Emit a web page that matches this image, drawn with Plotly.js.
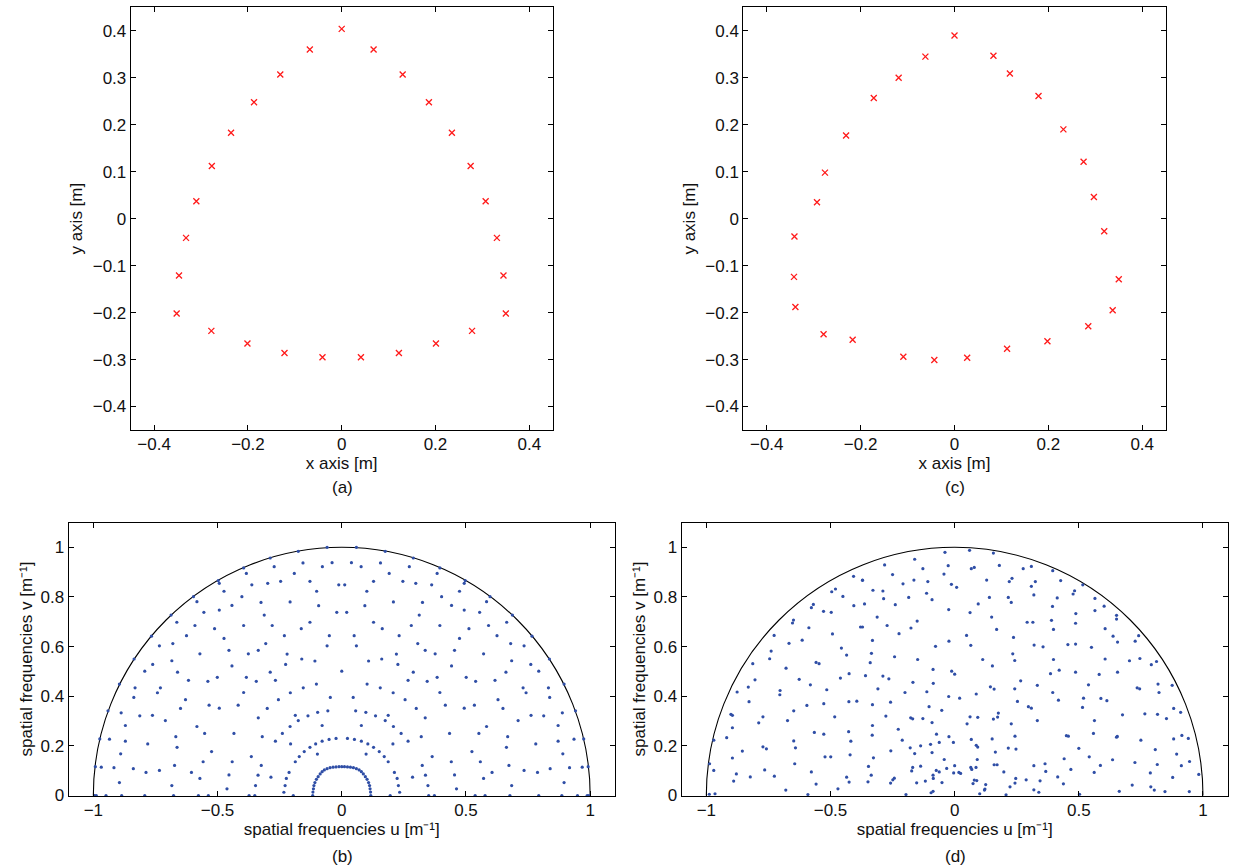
<!DOCTYPE html>
<html>
<head>
<meta charset="utf-8">
<script src="https://cdn.plot.ly/plotly-3.0.1.min.js"></script>
<style>html,body{margin:0;padding:0;background:#fff;}#chart{width:1233px;height:867px;}</style>
</head>
<body>
<div id="chart"></div>
<script>
// ---------- (a) array element positions [m] ----------
const a_x = [0, -0.068, 0.068, -0.131, 0.130, -0.187, 0.186, -0.236, 0.235, -0.277, 0.275, -0.310, 0.307, -0.332, 0.331, -0.347, 0.345, -0.352, 0.350, -0.278, 0.278, -0.201, 0.201, -0.122, 0.122, -0.041, 0.041];
const a_y = [0.404, 0.360, 0.360, 0.307, 0.307, 0.248, 0.248, 0.183, 0.183, 0.112, 0.112, 0.037, 0.037, -0.041, -0.041, -0.121, -0.121, -0.202, -0.202, -0.239, -0.239, -0.266, -0.266, -0.286, -0.286, -0.295, -0.295];

// ---------- (c) array element positions [m] ----------
const c_x = [0, -0.062, 0.083, -0.119, 0.118, -0.172, 0.179, -0.231, 0.232, -0.276, 0.275, -0.293, 0.297, -0.341, 0.319, -0.342, 0.350, -0.339, 0.337, -0.279, 0.285, -0.217, 0.198, -0.109, 0.112, -0.043, 0.027];
const c_y = [0.390, 0.345, 0.347, 0.300, 0.309, 0.257, 0.261, 0.177, 0.190, 0.098, 0.121, 0.035, 0.046, -0.038, -0.027, -0.124, -0.129, -0.188, -0.195, -0.246, -0.229, -0.258, -0.261, -0.294, -0.277, -0.301, -0.296];

// ---------- (b) spatial frequencies [u, v] ----------
const b_outer_left = [[-0.395,0.917],[-0.384,0.895],[-0.497,0.866],[-0.493,0.855],[-0.474,0.823],[-0.402,0.801],[-0.597,0.801],[-0.583,0.781],[-0.442,0.766],[-0.555,0.738],[-0.493,0.747],[-0.687,0.727],[-0.664,0.698],[-0.591,0.685],[-0.395,0.685],[-0.512,0.672],[-0.625,0.644],[-0.474,0.633],[-0.766,0.642],[-0.734,0.603],[-0.680,0.612],[-0.571,0.571],[-0.454,0.585],[-0.836,0.550],[-0.684,0.543],[-0.761,0.528],[-0.442,0.522],[-0.793,0.501],[-0.661,0.497],[-0.617,0.464],[-0.539,0.460],[-0.501,0.476],[-0.384,0.476],[-0.895,0.449],[-0.832,0.434],[-0.730,0.434],[-0.742,0.414],[-0.837,0.395],[-0.629,0.386],[-0.395,0.415],[-0.534,0.364],[-0.493,0.352],[-0.417,0.364],[-0.649,0.351],[-0.941,0.341],[-0.888,0.333],[-0.813,0.321],[-0.762,0.323],[-0.710,0.302],[-0.871,0.282],[-0.583,0.278],[-0.552,0.250],[-0.434,0.250],[-0.668,0.237],[-0.974,0.228],[-0.935,0.227],[-0.871,0.219],[-0.781,0.208],[-0.663,0.194],[-0.524,0.177],[-0.890,0.168],[-0.558,0.136],[-0.441,0.136],[-0.992,0.116],[-0.968,0.114],[-0.917,0.112],[-0.839,0.108],[-0.788,0.093],[-0.734,0.101],[-0.673,0.121],[-0.605,0.093],[-0.454,0.083],[-0.571,0.069],[-0.895,0.052],[-0.684,0.040],[-0.462,0.027]];
const b_outer_right = [[0.395,0.917],[0.384,0.895],[0.497,0.866],[0.493,0.855],[0.474,0.823],[0.402,0.801],[0.597,0.801],[0.583,0.781],[0.442,0.766],[0.555,0.738],[0.493,0.747],[0.687,0.727],[0.664,0.698],[0.591,0.685],[0.395,0.685],[0.512,0.672],[0.625,0.644],[0.474,0.633],[0.766,0.642],[0.734,0.603],[0.680,0.612],[0.571,0.571],[0.454,0.585],[0.836,0.550],[0.684,0.543],[0.761,0.528],[0.442,0.522],[0.793,0.501],[0.661,0.497],[0.617,0.464],[0.539,0.460],[0.501,0.476],[0.384,0.476],[0.895,0.449],[0.832,0.434],[0.730,0.434],[0.742,0.414],[0.837,0.395],[0.629,0.386],[0.395,0.415],[0.534,0.364],[0.493,0.352],[0.417,0.364],[0.649,0.351],[0.941,0.341],[0.888,0.333],[0.813,0.321],[0.762,0.323],[0.710,0.302],[0.871,0.282],[0.583,0.278],[0.552,0.250],[0.434,0.250],[0.668,0.237],[0.974,0.228],[0.935,0.227],[0.871,0.219],[0.781,0.208],[0.663,0.194],[0.524,0.177],[0.890,0.168],[0.558,0.136],[0.441,0.136],[0.992,0.116],[0.968,0.114],[0.917,0.112],[0.839,0.108],[0.788,0.093],[0.734,0.101],[0.673,0.121],[0.605,0.093],[0.454,0.083],[0.571,0.069],[0.895,0.052],[0.684,0.040],[0.462,0.027]];
const b_mid_left = [[-0.175,0.984],[-0.059,1.000],[-0.288,0.957],[-0.156,0.937],[-0.039,0.938],[-0.272,0.922],[-0.078,0.922],[-0.191,0.895],[-0.246,0.863],[-0.128,0.863],[-0.362,0.849],[-0.298,0.855],[-0.012,0.849],[-0.101,0.823],[-0.325,0.778],[-0.208,0.780],[-0.093,0.765],[-0.020,0.738],[-0.312,0.727],[-0.128,0.698],[-0.280,0.685],[-0.163,0.672],[-0.231,0.644],[-0.050,0.644],[-0.306,0.612],[-0.059,0.603],[-0.336,0.585],[-0.376,0.571],[-0.220,0.570],[-0.161,0.550],[-0.108,0.542],[-0.226,0.528],[-0.288,0.497],[-0.344,0.460],[-0.267,0.464],[-0.102,0.449],[-0.155,0.434],[-0.207,0.414],[-0.046,0.395],[-0.255,0.386],[-0.300,0.351],[-0.056,0.341],[-0.097,0.335],[-0.187,0.323],[-0.136,0.321],[-0.336,0.313],[-0.175,0.302],[-0.079,0.282],[-0.208,0.278],[-0.239,0.250],[-0.320,0.237],[-0.267,0.219],[-0.206,0.208],[-0.098,0.167],[-0.364,0.157],[-0.324,0.121],[-0.337,0.082],[-0.285,0.074],[-0.347,0.040]];
const b_mid_right = [[0.175,0.984],[0.059,1.000],[0.288,0.957],[0.156,0.937],[0.039,0.938],[0.272,0.922],[0.078,0.922],[0.191,0.895],[0.246,0.863],[0.128,0.863],[0.362,0.849],[0.298,0.855],[0.012,0.849],[0.101,0.823],[0.325,0.778],[0.208,0.780],[0.093,0.765],[0.020,0.738],[0.312,0.727],[0.128,0.698],[0.280,0.685],[0.163,0.672],[0.231,0.644],[0.050,0.644],[0.306,0.612],[0.059,0.603],[0.336,0.585],[0.376,0.571],[0.220,0.570],[0.161,0.550],[0.108,0.542],[0.226,0.528],[0.288,0.497],[0.344,0.460],[0.267,0.464],[0.102,0.449],[0.155,0.434],[0.207,0.414],[0.046,0.395],[0.255,0.386],[0.300,0.351],[0.056,0.341],[0.097,0.335],[0.187,0.323],[0.136,0.321],[0.336,0.313],[0.175,0.302],[0.079,0.282],[0.208,0.278],[0.239,0.250],[0.320,0.237],[0.267,0.219],[0.206,0.208],[0.098,0.167],[0.364,0.157],[0.324,0.121],[0.337,0.082],[0.285,0.074],[0.347,0.040]];
const b_center = [[0.000,0.501]];
const b_ring2 = [[-0.233,0.013],[-0.228,0.040],[-0.223,0.069],[-0.212,0.093],[-0.187,0.136],[-0.171,0.157],[-0.151,0.177],[-0.128,0.194],[-0.105,0.208],[-0.079,0.219],[-0.051,0.226],[-0.023,0.230],[0.023,0.230],[0.051,0.226],[0.079,0.219],[0.105,0.208],[0.128,0.194],[0.151,0.177],[0.171,0.157],[0.187,0.136],[0.212,0.093],[0.223,0.069],[0.228,0.040],[0.233,0.013]];
const b_ring1 = [[-0.117,0.000],[-0.116,0.014],[-0.114,0.027],[-0.112,0.040],[-0.108,0.052],[-0.102,0.065],[-0.095,0.076],[-0.087,0.087],[-0.079,0.096],[-0.070,0.103],[-0.059,0.108],[-0.047,0.112],[-0.035,0.114],[-0.023,0.115],[-0.011,0.116],[0.000,0.116],[0.011,0.116],[0.023,0.115],[0.035,0.114],[0.047,0.112],[0.059,0.108],[0.070,0.103],[0.079,0.096],[0.087,0.087],[0.095,0.076],[0.102,0.065],[0.108,0.052],[0.112,0.040],[0.114,0.027],[0.116,0.014],[0.117,0.000]];
const b_axis = [[-0.995,0],[-0.988,0],[-0.949,0],[-0.886,0],[-0.793,0],[-0.677,0],[-0.577,0],[-0.537,0],[-0.373,0],[-0.350,0],[-0.195,0],[0.195,0],[0.350,0],[0.373,0],[0.537,0],[0.577,0],[0.677,0],[0.793,0],[0.886,0],[0.949,0],[0.988,0],[0.995,0]];

// ---------- (d) spatial frequencies [u, v] ----------
const d_left = [[-0.407,0.883],[-0.371,0.867],[-0.495,0.821],[-0.480,0.832],[-0.450,0.802],[-0.406,0.765],[-0.569,0.770],[-0.577,0.757],[-0.528,0.742],[-0.497,0.738],[-0.649,0.707],[-0.653,0.695],[-0.587,0.676],[-0.379,0.679],[-0.727,0.645],[-0.492,0.651],[-0.614,0.626],[-0.667,0.613],[-0.456,0.594],[-0.739,0.582],[-0.745,0.551],[-0.435,0.566],[-0.813,0.531],[-0.558,0.536],[-0.546,0.531],[-0.679,0.513],[-0.460,0.473],[-0.425,0.491],[-0.804,0.466],[-0.626,0.468],[-0.581,0.446],[-0.876,0.417],[-0.831,0.437],[-0.703,0.423],[-0.704,0.406],[-0.515,0.426],[-0.828,0.378],[-0.595,0.363],[-0.527,0.370],[-0.426,0.378],[-0.394,0.380],[-0.901,0.327],[-0.895,0.323],[-0.772,0.317],[-0.648,0.341],[-0.483,0.317],[-0.789,0.293],[-0.673,0.302],[-0.895,0.273],[-0.565,0.254],[-0.527,0.247],[-0.427,0.257],[-0.918,0.233],[-0.970,0.223],[-0.648,0.220],[-0.641,0.192],[-0.418,0.219],[-0.772,0.196],[-0.758,0.188],[-0.855,0.179],[-0.895,0.151],[-0.522,0.156],[-0.499,0.156],[-0.421,0.164],[-0.987,0.128],[-0.644,0.128],[-0.970,0.101],[-0.879,0.087],[-0.765,0.103],[-0.823,0.075],[-0.726,0.078],[-0.577,0.095],[-0.890,0.058],[-0.435,0.074],[-0.425,0.054],[-0.558,0.046],[-0.680,0.022],[-0.470,0.027],[-0.988,0.005],[-0.965,0.007],[-0.591,0.004]];
const d_mid = [[-0.039,0.980],[0.060,0.988],[0.156,0.977],[-0.161,0.952],[-0.282,0.929],[-0.128,0.914],[-0.026,0.926],[0.067,0.914],[0.079,0.919],[0.180,0.927],[0.276,0.914],[0.309,0.923],[-0.250,0.890],[-0.043,0.892],[-0.371,0.868],[-0.208,0.853],[-0.164,0.868],[-0.108,0.862],[-0.013,0.851],[0.008,0.839],[0.129,0.868],[0.220,0.862],[0.231,0.875],[0.325,0.862],[0.309,0.843],[-0.329,0.827],[-0.289,0.824],[-0.185,0.798],[-0.113,0.815],[-0.091,0.789],[-0.286,0.793],[0.140,0.798],[0.216,0.798],[0.228,0.778],[0.319,0.808],[-0.363,0.772],[-0.239,0.769],[0.095,0.772],[-0.312,0.719],[-0.024,0.749],[0.062,0.737],[0.149,0.719],[-0.151,0.703],[-0.272,0.685],[-0.176,0.675],[0.169,0.669],[0.292,0.698],[0.315,0.698],[-0.371,0.679],[-0.224,0.652],[0.048,0.645],[0.237,0.637],[-0.331,0.625],[-0.023,0.622],[-0.077,0.601],[0.065,0.605],[0.320,0.606],[0.356,0.599],[-0.335,0.573],[-0.242,0.559],[-0.340,0.535],[-0.149,0.548],[0.234,0.571],[0.242,0.544],[0.113,0.548],[0.152,0.522],[-0.359,0.483],[-0.289,0.481],[-0.265,0.470],[-0.087,0.508],[-0.012,0.501],[0.000,0.489],[-0.168,0.456],[-0.086,0.452],[0.266,0.462],[0.333,0.444],[-0.309,0.430],[-0.200,0.415],[-0.112,0.418],[-0.024,0.399],[0.020,0.392],[0.087,0.409],[0.144,0.438],[0.159,0.429],[0.242,0.430],[-0.331,0.366],[-0.258,0.376],[-0.103,0.358],[-0.052,0.343],[0.253,0.379],[0.297,0.358],[0.309,0.352],[-0.277,0.320],[-0.177,0.313],[-0.169,0.309],[-0.128,0.310],[-0.091,0.294],[0.062,0.317],[0.093,0.315],[0.156,0.308],[0.173,0.316],[0.176,0.332],[0.333,0.302],[-0.331,0.282],[0.050,0.289],[0.228,0.289],[-0.332,0.243],[-0.227,0.267],[-0.073,0.247],[-0.023,0.237],[0.243,0.239],[-0.211,0.223],[-0.137,0.200],[-0.097,0.206],[-0.062,0.214],[-0.005,0.214],[0.067,0.226],[0.087,0.202],[0.093,0.195],[0.151,0.228],[0.164,0.175],[0.216,0.191],[0.247,0.187],[-0.257,0.180],[-0.179,0.192],[-0.161,0.169],[-0.091,0.173],[-0.327,0.152],[-0.042,0.145],[0.091,0.145],[-0.347,0.117],[-0.169,0.113],[-0.173,0.099],[-0.137,0.118],[-0.074,0.101],[-0.062,0.095],[-0.032,0.109],[0.000,0.120],[-0.004,0.091],[0.017,0.093],[0.024,0.089],[0.065,0.113],[0.069,0.105],[0.086,0.113],[0.159,0.124],[0.171,0.124],[0.198,0.095],[0.319,0.120],[-0.336,0.082],[-0.087,0.082],[-0.086,0.069],[-0.243,0.070],[-0.249,0.063],[-0.349,0.055],[-0.258,0.050],[-0.153,0.051],[-0.118,0.058],[-0.051,0.052],[0.079,0.062],[0.089,0.060],[0.074,0.048],[0.125,0.044],[0.246,0.069],[0.243,0.050],[0.288,0.063],[0.344,0.059],[0.122,0.026],[0.120,0.022],[0.223,0.035],[0.319,0.023],[0.339,0.013],[-0.196,0.004],[-0.095,0.011],[-0.087,0.017],[0.101,0.007],[0.207,0.003]];
const d_right = [[0.395,0.906],[0.427,0.866],[0.516,0.849],[0.483,0.825],[0.477,0.812],[0.413,0.796],[0.565,0.794],[0.394,0.762],[0.602,0.763],[0.565,0.745],[0.488,0.733],[0.652,0.726],[0.652,0.711],[0.390,0.706],[0.487,0.694],[0.398,0.669],[0.606,0.672],[0.638,0.642],[0.741,0.644],[0.727,0.622],[0.656,0.618],[0.456,0.608],[0.487,0.610],[0.551,0.597],[0.398,0.548],[0.606,0.550],[0.704,0.543],[0.746,0.552],[0.792,0.527],[0.813,0.540],[0.386,0.491],[0.421,0.505],[0.487,0.497],[0.582,0.488],[0.656,0.497],[0.539,0.446],[0.819,0.449],[0.876,0.444],[0.735,0.434],[0.745,0.430],[0.395,0.415],[0.823,0.415],[0.418,0.384],[0.519,0.392],[0.589,0.391],[0.613,0.382],[0.515,0.355],[0.676,0.325],[0.766,0.329],[0.817,0.327],[0.853,0.310],[0.882,0.351],[0.910,0.335],[0.563,0.302],[0.450,0.241],[0.458,0.239],[0.559,0.250],[0.652,0.235],[0.655,0.238],[0.750,0.223],[0.882,0.228],[0.915,0.242],[0.941,0.230],[0.500,0.190],[0.808,0.185],[0.894,0.167],[0.364,0.128],[0.441,0.148],[0.542,0.156],[0.636,0.144],[0.726,0.133],[0.816,0.125],[0.913,0.120],[0.946,0.137],[0.367,0.097],[0.468,0.105],[0.562,0.093],[0.587,0.121],[0.788,0.091],[0.983,0.085],[0.415,0.075],[0.878,0.073],[0.438,0.047],[0.715,0.042],[0.790,0.035],[0.804,0.022],[0.847,0.016],[0.663,0.017],[0.945,0.016],[0.503,0.005]];

// ---------- tick values, titles, captions ----------
const arrTicks = [-0.4, -0.3, -0.2, -0.1, 0, 0.1, 0.2, 0.3, 0.4];
const arrXTicks = [-0.4, -0.2, 0, 0.2, 0.4];
const freqUTicks = [-1, -0.5, 0, 0.5, 1];
const freqVTicks = [0, 0.2, 0.4, 0.6, 0.8, 1];
const unitCircleRadius = 1;
const titleX = 'x axis [m]';
const titleY = 'y axis [m]';
const titleU = 'spatial frequencies u [m⁻¹]';
const titleV = 'spatial frequencies v [m⁻¹]';
const captions = ['(a)', '(b)', '(c)', '(d)'];

// ---------- build traces ----------
const W = 1233, H = 867;
const FONT = 'Liberation Sans, Arial, Helvetica, sans-serif';
const concat = (...lists) => [].concat(...lists);
const bPts = concat(b_outer_left, b_mid_left, b_center, b_mid_right, b_outer_right, b_ring2, b_ring1, b_axis);
const dPts = concat(d_left, d_mid, d_right);

const crossMarker = {symbol: 'x-thin', size: 6, color: '#ff1a1a', line: {width: 1.3, color: '#ff1a1a'}};
const dotMarker = {symbol: 'circle', size: 3.2, color: '#2f4ea6', line: {width: 0}};

const traces = [
  {type: 'scatter', mode: 'markers', x: a_x, y: a_y, xaxis: 'x', yaxis: 'y', marker: crossMarker},
  {type: 'scatter', mode: 'markers', x: c_x, y: c_y, xaxis: 'x2', yaxis: 'y2', marker: crossMarker},
  {type: 'scatter', mode: 'markers', x: bPts.map(p => p[0]), y: bPts.map(p => p[1]), xaxis: 'x3', yaxis: 'y3', marker: dotMarker, cliponaxis: false},
  {type: 'scatter', mode: 'markers', x: dPts.map(p => p[0]), y: dPts.map(p => p[1]), xaxis: 'x4', yaxis: 'y4', marker: dotMarker, cliponaxis: false}
];

// pixel boxes of the four plot areas -> paper domains
const px = (l, r) => [l / W, r / W];
const py = (t, b) => [1 - b / H, 1 - t / H];

const titleFont = {family: FONT, size: 17, color: '#111'};
const axisBase = {
  showline: true, linecolor: '#000', linewidth: 1, mirror: 'ticks',
  ticks: 'inside', ticklen: 5, tickwidth: 1, tickcolor: '#000',
  showgrid: false, zeroline: false, fixedrange: true, automargin: 'top',
  tickfont: {family: FONT, size: 17, color: '#111'}
};
const ax = (extra, title, standoff) => Object.assign({}, axisBase, extra, {title: {text: title, font: titleFont, standoff: standoff}});

const layout = {
  width: W, height: H,
  margin: {l: 0, r: 0, t: 0, b: 0},
  paper_bgcolor: '#fff', plot_bgcolor: '#fff',
  showlegend: false,
  font: {family: FONT, size: 17, color: '#111'},
  xaxis:  ax({domain: px(130.7, 552.7), range: [-0.45, 0.45], tickvals: arrXTicks, anchor: 'y', ticklabelstandoff: -1}, titleX, 0),
  yaxis:  ax({domain: py(7.3, 430), range: [-0.45, 0.45], tickvals: arrTicks, anchor: 'x'}, titleY, 5),
  xaxis2: ax({domain: px(743.3, 1165.7), range: [-0.45, 0.45], tickvals: arrXTicks, anchor: 'y2', ticklabelstandoff: -1}, titleX, 0),
  yaxis2: ax({domain: py(7.3, 430), range: [-0.45, 0.45], tickvals: arrTicks, anchor: 'x2'}, titleY, 5),
  xaxis3: ax({domain: px(68.5, 615), range: [-1.1, 1.1], tickvals: freqUTicks, anchor: 'y3', ticklabelstandoff: -1}, titleU, 3),
  yaxis3: ax({domain: py(522.5, 795.5), range: [0, 1.1], tickvals: freqVTicks, anchor: 'x3'}, titleV, 3),
  xaxis4: ax({domain: px(681.5, 1227.8), range: [-1.1, 1.1], tickvals: freqUTicks, anchor: 'y4', ticklabelstandoff: -1}, titleU, 3),
  yaxis4: ax({domain: py(522.5, 795.5), range: [0, 1.1], tickvals: freqVTicks, anchor: 'x4'}, titleV, 3),
  shapes: [
    {type: 'circle', xref: 'x3', yref: 'y3', x0: -unitCircleRadius, x1: unitCircleRadius, y0: -unitCircleRadius, y1: unitCircleRadius, line: {color: '#000', width: 1.1}, layer: 'below'},
    {type: 'circle', xref: 'x4', yref: 'y4', x0: -unitCircleRadius, x1: unitCircleRadius, y0: -unitCircleRadius, y1: unitCircleRadius, line: {color: '#000', width: 1.1}, layer: 'below'}
  ],
  annotations: []
};

function caption(text, xPix, yPix) {
  layout.annotations.push({
    text: text, xref: 'paper', yref: 'paper', x: xPix / W, y: 1 - yPix / H,
    xanchor: 'center', yanchor: 'middle', showarrow: false,
    font: titleFont
  });
}
caption(captions[0], 342, 487);
caption(captions[2], 955, 487);
caption(captions[1], 342, 856);
caption(captions[3], 955, 856);

Plotly.newPlot('chart', traces, layout, {staticPlot: true, displayModeBar: false});
</script>
</body>
</html>
